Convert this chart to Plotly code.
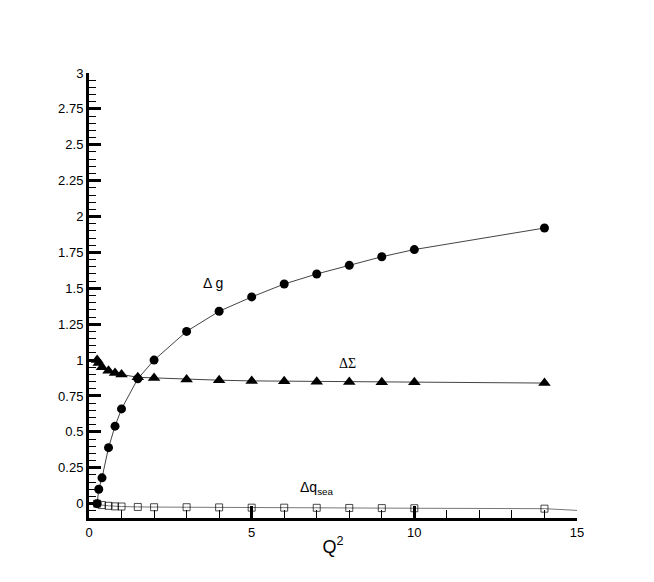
import plotly.graph_objects as go

# Q^2 values for each curve
q2_g = [0.25, 0.3, 0.4, 0.6, 0.8, 1.0, 1.5, 2, 3, 4, 5, 6, 7, 8, 9, 10, 14]
delta_g = [0.0, 0.1, 0.18, 0.39, 0.54, 0.66, 0.87, 1.0, 1.2, 1.34, 1.44, 1.53, 1.60, 1.66, 1.72, 1.77, 1.92]

q2_sigma = [0.25, 0.3, 0.4, 0.6, 0.8, 1.0, 1.5, 2, 3, 4, 5, 6, 7, 8, 9, 10, 14]
delta_sigma = [1.0, 0.98, 0.95, 0.925, 0.91, 0.9, 0.88, 0.875, 0.865, 0.86, 0.855, 0.853, 0.85, 0.848, 0.846, 0.845, 0.84]

q2_sea = [0.25, 0.4, 0.6, 0.8, 1.0, 1.5, 2, 3, 4, 5, 6, 7, 8, 9, 10, 14, 15]
delta_qsea = [0.0, -0.01, -0.015, -0.019, -0.02, -0.023, -0.025, -0.025, -0.026, -0.028, -0.028, -0.029, -0.03, -0.031, -0.032, -0.035, -0.047]
sea_marker = [7] * 16 + [0]  # the last point only carries the line to the axis end

y_ticks = [0, 0.25, 0.5, 0.75, 1, 1.25, 1.5, 1.75, 2, 2.25, 2.5, 2.75, 3]
y_labels = ["0", "0.25", "0.5", "0.75", "1", "1.25", "1.5", "1.75", "2", "2.25", "2.5", "2.75", "3"]

line_col = "#444444"

fig = go.Figure()
fig.add_trace(go.Scatter(
    x=q2_sea, y=delta_qsea, mode="lines+markers",
    line=dict(color="#777777", width=1),
    marker=dict(symbol="square-open", size=sea_marker, color="black", line=dict(width=1)),
    cliponaxis=False,
))
fig.add_trace(go.Scatter(
    x=q2_sigma, y=delta_sigma, mode="lines+markers",
    line=dict(color=line_col, width=1),
    marker=dict(symbol="triangle-up", size=11, color="black"),
    cliponaxis=False,
))
fig.add_trace(go.Scatter(
    x=q2_g, y=delta_g, mode="lines+markers",
    line=dict(color=line_col, width=1),
    marker=dict(symbol="circle", size=9, color="black"),
    cliponaxis=False,
))

fig.add_annotation(x=3.8, y=1.535, text="Δ g", showarrow=False,
                   font=dict(family="Liberation Sans", size=14, color="black"))
fig.add_annotation(x=7.95, y=0.975, text="ΔΣ", showarrow=False,
                   font=dict(family="Liberation Serif", size=14, color="black"))
fig.add_annotation(x=7.0, y=0.11, text="Δq<sub>sea</sub>", showarrow=False,
                   font=dict(family="Liberation Sans", size=14, color="black"))

axis_common = dict(
    showline=True, linecolor="black", linewidth=3, mirror=False,
    showgrid=False, zeroline=False,
    ticks="inside", tickcolor="black", tickwidth=3, ticklen=12,
    tickfont=dict(family="Liberation Sans", size=13, color="black"),
)

fig.update_layout(
    width=654, height=582,
    paper_bgcolor="white", plot_bgcolor="white",
    showlegend=False,
    margin=dict(l=81, r=85, t=65, b=72),
    xaxis=dict(
        range=[0, 15], tickvals=[0, 5, 10, 15],
        minor=dict(ticks="inside", dtick=1, ticklen=8, tickwidth=1, tickcolor="black"),
        title=dict(text="Q<sup>2</sup>", standoff=2,
                   font=dict(family="Liberation Sans", size=18, color="black")),
        **axis_common,
    ),
    yaxis=dict(
        range=[-0.1, 3], tickvals=y_ticks, ticktext=y_labels,
        minor=dict(ticks="inside", dtick=0.05, tick0=0, ticklen=7, tickwidth=1, tickcolor="black"),
        **axis_common,
    ),
)

fig.write_html("out.html")
